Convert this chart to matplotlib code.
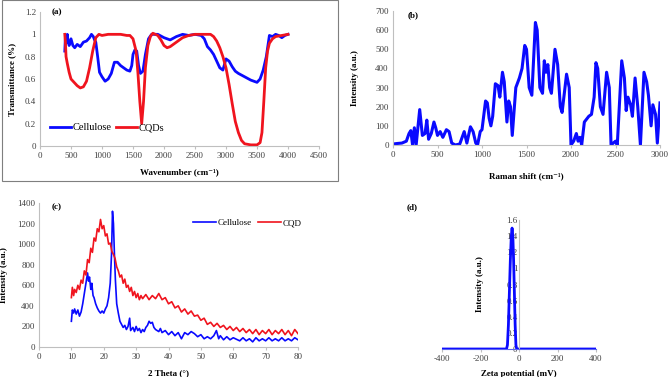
import matplotlib
matplotlib.use('Agg')
import matplotlib.pyplot as plt
from matplotlib.patches import Rectangle
from matplotlib.ticker import FuncFormatter, MultipleLocator

params = {'font.family': ['Liberation Serif', 'DejaVu Serif'],
          'font.size': 6,
          'axes.unicode_minus': False,
          'axes.edgecolor': '#bfbfbf',
          'axes.linewidth': 0.8,
          'xtick.color': '#bfbfbf',
          'ytick.color': '#bfbfbf',
          'xtick.labelcolor': '#404040',
          'ytick.labelcolor': '#404040',
          'xtick.labelsize': 6.5,
          'ytick.labelsize': 6.5,
          'xtick.major.size': 2,
          'ytick.major.size': 0,
          'axes.labelsize': 6.5,
          'axes.labelweight': 'bold'}
plt.rcParams.update(params)

BLUE = '#0a0aff'
RED = '#f0141e'

# (a) FTIR
ftir_cell_x = [400, 410, 420, 440, 450, 470, 500, 530, 560, 600, 650, 700, 750, 800, 830, 860,
               880, 900, 930, 960, 1000, 1050, 1100, 1150, 1200, 1250, 1300, 1350, 1400, 1450,
               1480, 1500, 1530, 1560, 1590, 1620, 1660, 1700, 1750, 1800, 1900, 2000, 2100,
               2200, 2300, 2400, 2500, 2600, 2650, 2700, 2750, 2800, 2850, 2900, 2950, 3000,
               3050, 3100, 3150, 3200, 3300, 3400, 3450, 3500, 3550, 3600, 3650, 3700, 3750,
               3800, 3850, 3900, 3950, 4000]
ftir_cell_y = [0.85, 0.98, 0.92, 1.0, 0.95, 0.9, 0.96, 0.9, 0.88, 0.91, 0.89, 0.93, 0.94, 0.97,
               1.0, 0.98, 0.95, 0.93, 0.8, 0.66, 0.62, 0.58, 0.6, 0.65, 0.75, 0.75, 0.72,
               0.7, 0.68, 0.67, 0.72, 0.82, 0.86, 0.85, 0.72, 0.65, 0.67, 0.82, 0.96, 1.0,
               1.0, 0.97, 0.95, 0.98, 1.0, 0.99, 1.0, 0.99, 0.96, 0.89, 0.86, 0.82, 0.76,
               0.7, 0.68, 0.78, 0.76, 0.71, 0.67, 0.65, 0.62, 0.59, 0.58, 0.57, 0.6, 0.68,
               0.8, 0.99, 0.98, 1.0, 0.99, 0.97, 0.99, 1.0]

ftir_cqd_x = [400, 410, 420, 440, 470, 500, 550, 600, 650, 700, 750, 800, 850, 900, 950, 1000,
              1100, 1200, 1300, 1400, 1450, 1500, 1550, 1580, 1610, 1640, 1670, 1700, 1740,
              1780, 1820, 1900, 1950, 2000, 2050, 2100, 2200, 2300, 2400, 2500, 2600, 2700,
              2750, 2800, 2850, 2900, 2950, 3000, 3050, 3100, 3150, 3200, 3250, 3300, 3400,
              3500, 3550, 3580, 3610, 3640, 3670, 3700, 3750, 3800, 3900, 4000]
ftir_cqd_y = [1.0, 0.93, 0.8, 0.74, 0.66, 0.6, 0.57, 0.54, 0.52, 0.53, 0.58, 0.7, 0.85, 0.97,
              1.0, 0.99, 1.0, 1.0, 1.0, 0.99, 0.99, 0.96, 0.85, 0.65, 0.4, 0.2, 0.4, 0.7,
              0.9, 0.98, 1.01, 0.99, 0.95, 0.9, 0.88, 0.89, 0.93, 0.97, 0.99, 1.0, 1.0, 1.0,
              1.0, 0.98, 0.94, 0.88, 0.8, 0.7, 0.55, 0.38, 0.22, 0.12, 0.05, 0.02, 0.01,
              0.01, 0.03, 0.12, 0.4, 0.7, 0.85, 0.92, 0.96, 0.98, 0.99, 1.0]

# (b) Raman
raman_x = [0, 50, 100, 150, 180, 200, 220, 240, 260, 300, 330, 360, 380, 400, 430, 460, 480,
           500, 530, 560, 600, 630, 660, 700, 750, 800, 830, 870, 900, 930, 950, 980, 1000,
           1040, 1060, 1080, 1100, 1120, 1150, 1180, 1200, 1230, 1250, 1280, 1300, 1320,
           1340, 1380, 1420, 1450, 1480, 1500, 1530, 1560, 1600, 1620, 1650, 1680, 1700,
           1720, 1740, 1760, 1780, 1820, 1850, 1880, 1900, 1950, 1980, 2000, 2030, 2060,
           2080, 2100, 2120, 2150, 2200, 2230, 2260, 2280, 2300, 2330, 2360, 2400, 2430,
           2450, 2500, 2520, 2570, 2600, 2620, 2640, 2670, 2690, 2720, 2750, 2780, 2820,
           2850, 2870, 2900, 2920, 2950, 2970, 3000]
raman_y = [5, 8, 10, 20, 60, 75, 0, 90, 0, 185, 50, 60, 130, 30, 60, 120, 90, 50, 70, 40,
           80, 70, 10, 0, 5, 70, 10, 95, 70, 10, 0, 70, 80, 230, 220, 140, 100, 150, 320,
           310, 250, 380, 330, 120, 230, 200, 50, 300, 350, 400, 520, 500, 300, 260, 640,
           600, 300, 270, 440, 380, 420, 300, 270, 500, 420, 200, 170, 370, 300, 0, 20, 60,
           20, 40, 0, 120, 150, 160, 250, 430, 400, 200, 160, 380, 300, 0, 20, 0, 440, 350,
           180, 250, 210, 150, 350, 200, 0, 380, 330, 260, 100, 210, 160, 10, 220]

# (c) XRD
xrd_cell_x = [10.0, 10.3, 10.7, 11.0, 11.5, 12.0, 12.5, 13.0, 13.5, 14.0, 14.5, 15.0, 15.3,
              15.6, 16.0, 16.3, 16.7, 17.0, 17.5, 18.0, 18.5, 19.0, 19.5, 20.0, 20.5, 21.0,
              21.5, 22.0, 22.4, 22.7, 23.0, 23.3, 23.6, 24.0, 24.5, 25.0, 25.5, 26.0, 26.5,
              27.0, 27.5, 28.0, 28.3, 29.0, 29.5, 30.0, 30.5, 31.0, 31.5, 32.0, 32.5, 33.0,
              33.5, 34.0, 34.5, 35.0, 35.5, 36.0, 37.0, 37.5, 38.0, 39.0, 40.0, 41.0, 42.0,
              43.0, 44.0, 45.0, 46.0, 47.0, 48.0, 49.0, 50.0, 51.0, 52.0, 53.0, 54.0, 54.8,
              55.5, 56.0, 57.0, 58.0, 59.0, 60.0, 62.0, 63.0, 64.0, 65.0, 66.0, 67.0, 68.0,
              69.0, 70.0, 71.0, 72.0, 73.0, 74.0, 75.0, 76.0, 77.0, 78.0, 79.0, 80.0]
xrd_cell_y = [250, 360, 330, 370, 320, 360, 300, 340, 420, 520, 620, 720, 640, 680, 560, 620,
              500, 480, 420, 380, 350, 330, 350, 330, 370, 400, 480, 620, 900, 1320, 1200,
              900, 650, 420, 330, 250, 220, 190, 210, 170, 200, 280, 160, 190, 150, 200, 160,
              180, 140, 170, 150, 190, 210, 250, 230, 240, 190, 170, 150, 180, 140, 160, 120,
              150, 110, 140, 80, 140, 120, 150, 130, 100, 120, 80, 100, 80, 110, 160, 80, 110,
              70, 100, 70, 90, 60, 90, 60, 80, 50, 90, 60, 80, 60, 90, 60, 80, 60, 90, 60, 80,
              60, 90, 70]

xrd_cqd_x = [10.0, 10.3, 10.7, 11.0, 11.5, 12.0, 12.5, 13.0, 13.5, 14.0, 14.5, 15.0, 15.5,
             16.0, 16.5, 17.0, 17.5, 18.0, 18.5, 19.0, 19.5, 20.0, 20.5, 21.0, 21.5, 22.0,
             22.5, 23.0, 23.5, 24.0, 24.5, 25.0, 25.5, 26.0, 26.5, 27.0, 27.5, 28.0, 28.5,
             29.0, 29.5, 30.0, 30.5, 31.0, 31.5, 32.0, 33.0, 34.0, 35.0, 36.0, 37.0, 38.0,
             39.0, 40.0, 41.0, 42.0, 43.0, 44.0, 45.0, 46.0, 47.0, 48.0, 49.0, 50.0, 51.0,
             52.0, 53.0, 54.0, 55.0, 56.0, 57.0, 58.0, 59.0, 60.0, 61.0, 62.0, 63.0, 64.0,
             65.0, 66.0, 67.0, 68.0, 69.0, 70.0, 71.0, 72.0, 73.0, 74.0, 75.0, 76.0, 77.0,
             78.0, 79.0, 80.0]
xrd_cqd_y = [480, 580, 500, 560, 530, 600, 560, 650, 620, 740, 700, 850, 820, 960, 920, 1060,
             1030, 1150, 1120, 1240, 1150, 1180, 1080, 1100, 1000, 1010, 930, 900, 860, 780,
             740, 680, 700, 620, 660, 580, 600, 540, 580, 500, 540, 480, 520, 460, 500, 470,
             510, 460, 500, 470, 520, 460, 480, 420, 440, 380, 400, 340, 370, 320, 350, 300,
             310, 260, 280, 220, 240, 200, 230, 190, 210, 170, 200, 160, 190, 150, 180, 140,
             170, 130, 170, 120, 160, 130, 170, 120, 160, 130, 170, 120, 160, 110, 170, 130]

# (d) Zeta potential
zeta_x = [-400, -65, -60, -55, -50, -45, -40, -36, -32, -28, -24, -20, -16, -12, 400]
zeta_y = [0, 0, 0.05, 0.3, 0.7, 1.1, 1.4, 1.5, 1.4, 1.1, 0.7, 0.3, 0.05, 0, 0]

W, H = 669, 377
fig = plt.figure(figsize=(W / 100, H / 100), dpi=100)


def px_axes(left, top, right, bottom):
    return fig.add_axes([left / W, 1 - bottom / H, (right - left) / W, (bottom - top) / H])


def style(ax):
    ax.spines['top'].set_visible(False)
    ax.spines['right'].set_visible(False)
    ax.yaxis.set_major_formatter(FuncFormatter(lambda v, p: '%g' % v))
    ax.tick_params(axis='x', direction='out', pad=2)
    ax.tick_params(axis='y', pad=3)


fmt_g = FuncFormatter(lambda v, p: '%g' % v)

# frame around panel (a)
fig.patches.append(Rectangle((1.5 / W, 1 - 181 / H), 336 / W, 181 / H, transform=fig.transFigure,
                             fill=False, edgecolor='#7f7f7f', linewidth=0.8))

# (a)
ax1 = px_axes(40, 12, 319, 146)
ax1.plot(ftir_cell_x, ftir_cell_y, color=BLUE, lw=2, label='Cellulose')
ax1.plot(ftir_cqd_x, ftir_cqd_y, color=RED, lw=2, label='CQDs')
ax1.set_xlim(0, 4500)
ax1.set_ylim(0, 1.2)
ax1.xaxis.set_major_locator(MultipleLocator(500))
ax1.yaxis.set_major_locator(MultipleLocator(0.2))
style(ax1)
ax1.set_xlabel('Wavenumber (cm⁻¹)', labelpad=6)
ax1.set_ylabel('Transmittance (%)', labelpad=6)
ax1.legend(loc='lower left', bbox_to_anchor=(0.02, 0.07), ncol=2, frameon=False, fontsize=7.5,
           handlelength=2.0, handletextpad=0.15, columnspacing=0.5, borderaxespad=0)
ax1.text(0.04, 1.0, '(a)', transform=ax1.transAxes, fontsize=6.5, fontweight='bold', va='center')

# (b)
ax2 = px_axes(393, 11, 660, 145)
ax2.plot(raman_x, raman_y, color=BLUE, lw=2.2)
ax2.set_xlim(0, 3000)
ax2.set_ylim(0, 700)
ax2.xaxis.set_major_locator(MultipleLocator(500))
ax2.yaxis.set_major_locator(MultipleLocator(100))
style(ax2)
ax2.set_xlabel('Raman shift (cm⁻¹)', labelpad=10)
ax2.set_ylabel('Intensity (a.u.)', labelpad=12)
ax2.text(0.055, 0.97, '(b)', transform=ax2.transAxes, fontsize=6.5, fontweight='bold', va='center')

# (c)
ax3 = px_axes(39, 203, 298, 347)
ax3.plot(xrd_cell_x, xrd_cell_y, color=BLUE, lw=1.2, label='Cellulose')
ax3.plot(xrd_cqd_x, xrd_cqd_y, color=RED, lw=1.2, label='CQD')
ax3.set_xlim(0, 80)
ax3.set_ylim(0, 1400)
ax3.xaxis.set_major_locator(MultipleLocator(10))
ax3.yaxis.set_major_locator(MultipleLocator(200))
style(ax3)
ax3.set_xlabel('2 Theta (°)', labelpad=6)
ax3.set_ylabel('Intensity (a.u.)', labelpad=6)
ax3.legend(loc='center left', bbox_to_anchor=(0.58, 0.86), ncol=2, frameon=False, fontsize=6.5,
           handlelength=2.6, handletextpad=0.2, columnspacing=0.6, borderaxespad=0)
ax3.text(0.05, 0.97, '(c)', transform=ax3.transAxes, fontsize=6.5, fontweight='bold', va='center')

# (d)
ax4 = px_axes(442, 220, 596, 349)
ax4.plot(zeta_x, zeta_y, color=BLUE, lw=2)
ax4.set_xlim(-400, 400)
ax4.set_ylim(0, 1.6)
ax4.xaxis.set_major_locator(MultipleLocator(200))
ax4.yaxis.set_major_locator(MultipleLocator(0.2))
ax4.xaxis.set_major_formatter(fmt_g)
style(ax4)
ax4.spines['left'].set_position(('data', 0))
ax4.spines['bottom'].set_color('#5a64f0')
ax4.tick_params(axis='y', pad=1)
ax4.set_xlabel('Zeta potential (mV)', labelpad=5)
ax4.set_ylabel('Intensity (a.u.)')
ax4.yaxis.set_label_coords(0.27, 0.5)
ax4.text(-0.23, 1.1, '(d)', transform=ax4.transAxes, fontsize=6.5, fontweight='bold', va='center')

fig.savefig('out.png', dpi=100)
